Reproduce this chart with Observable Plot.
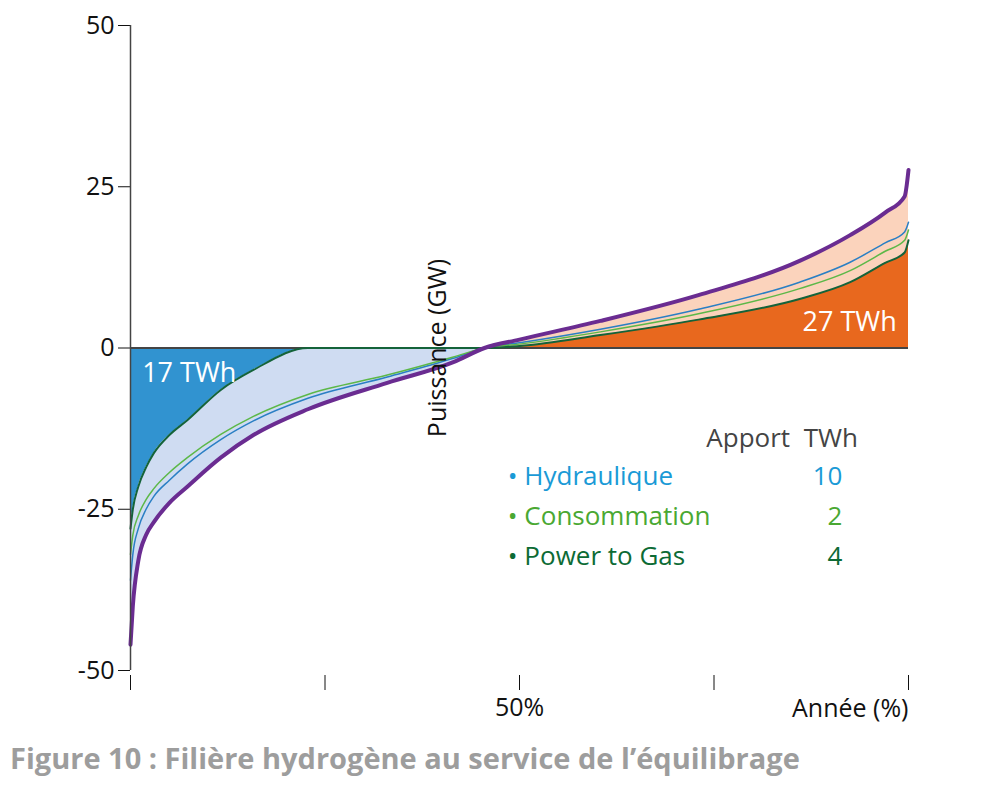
<!DOCTYPE html>
<html><head><meta charset="utf-8">
<script src="https://cdn.jsdelivr.net/npm/d3@7"></script>
<script src="https://cdn.jsdelivr.net/npm/@observablehq/plot@0.6"></script>
<style>
body{margin:0;background:#fff;font-family:"Open Sans",sans-serif}
#chart svg{display:block}
.cap{margin:8px 0 0 10px;font-size:29px;font-weight:700;color:#9d9d9d;white-space:nowrap}
</style></head>
<body><div id="chart"></div><div class="cap">Figure 10 : Filière hydrogène au service de l’équilibrage</div>
<script>
// année (%) et puissances (GW)
const annee = [0,0.3,1,2,3,5,7.3,11.6,15.8,22.8,33,41.5,45.5,50,60.4,73,86,92.5,97,99.5,100]
const residuel = [-46,-40,-33,-29,-27,-24,-21.5,-17,-13.5,-9.5,-5.4,-2.2,0,1.3,4.2,8.2,13.5,17.5,21,23.5,27.6]
const hydraulique = [-36,-32,-28,-25,-23,-20.5,-18,-14.2,-11.3,-7.8,-4.5,-1.6,0,0.8,2.9,6,10.2,13.3,16.3,18,19.5]
const consommation = [-32,-29,-26,-23.5,-21.8,-19.3,-17,-13.4,-10.6,-7.2,-4.2,-1.4,0,0.6,2.5,5.3,9.2,12,15,16.7,18.3]
const powerToGas = [-28,-25,-21.5,-18.5,-16.3,-13.5,-11.2,-6.5,-3.4,0,0,0,0,0.3,2,4.4,7.6,10.2,13.2,14.8,16.7]

const legende = [
  {label:"• Hydraulique", twh:"10", color:"#1a9ad6", y:-20},
  {label:"• Consommation", twh:"2", color:"#4aa832", y:-26.2},
  {label:"• Power to Gas", twh:"4", color:"#0d6b35", y:-32.4}
]

const data = annee.map((p,i) => ({p, res:residuel[i], hyd:hydraulique[i], con:consommation[i], ptg:powerToGas[i]}))
const neg = data.filter(d => d.p <= 45.5)
const pos = data.filter(d => d.p >= 45.5)
const curve = "monotone-x"

const chart = Plot.plot({
  width:1000, height:730,
  marginLeft:130, marginRight:92, marginTop:25, marginBottom:60,
  style:{fontFamily:"Open Sans", fontSize:"25px", color:"#111"},
  x:{domain:[0,100]},
  y:{domain:[-50,50]},
  marks:[
    Plot.areaY(neg.filter(d => d.p <= 22.8), {x:"p", y1:0, y2:"ptg", fill:"#3193d0", curve}),
    Plot.areaY(neg, {x:"p", y1:"ptg", y2:"res", fill:"#cfdcf2", curve}),
    Plot.areaY(pos, {x:"p", y1:0, y2:"ptg", fill:"#e8681e", curve}),
    Plot.areaY(pos, {x:"p", y1:"ptg", y2:"res", fill:"#fbd3bc", curve}),
    Plot.ruleY([0], {stroke:"#444", strokeWidth:2}),
    Plot.line(data, {x:"p", y:"hyd", stroke:"#2a7fc4", strokeWidth:1.5, curve}),
    Plot.line(data, {x:"p", y:"con", stroke:"#5cb848", strokeWidth:1.5, curve}),
    Plot.line(data, {x:"p", y:"ptg", stroke:"#14633a", strokeWidth:2, curve}),
    Plot.line(data, {x:"p", y:"res", stroke:"#6a2c91", strokeWidth:4, curve}),
    Plot.axisY({ticks:[-50,-25,0,25,50], tickSize:12, tickPadding:4, label:null, fontSize:25, tickFormat:d => String(d)}),
    Plot.ruleX([0], {stroke:"#444", strokeWidth:1.5}),
    Plot.text(["Puissance (GW)"], {frameAnchor:"middle", dx:-82, dy:0, rotate:-90, fontSize:25, fill:"#111"}),
    Plot.axisX({ticks:[0,25,50,75,100], tickSize:15, tickPadding:8, dy:5, label:null, fontSize:25,
      tickFormat:d => d === 50 ? "50%" : ""}),
    Plot.text(["Année (%)"], {x:100, y:-50, dy:38, textAnchor:"end", fontSize:25, fill:"#111"}),
    Plot.text(["17 TWh"], {x:1.5, y:-4, textAnchor:"start", fill:"white", fontSize:27}),
    Plot.text(["27 TWh"], {x:98.5, y:4, textAnchor:"end", fill:"white", fontSize:27}),
    Plot.text(["Apport  TWh"], {x:93.5, y:-14, textAnchor:"end", fill:"#444", fontSize:26}),
    Plot.text(legende, {x:48.5, y:"y", text:"label", fill:"color", textAnchor:"start", fontSize:26}),
    Plot.text(legende, {x:91.5, y:"y", text:"twh", fill:"color", textAnchor:"end", fontSize:26})
  ]
})
document.getElementById("chart").append(chart)
</script></body></html>
